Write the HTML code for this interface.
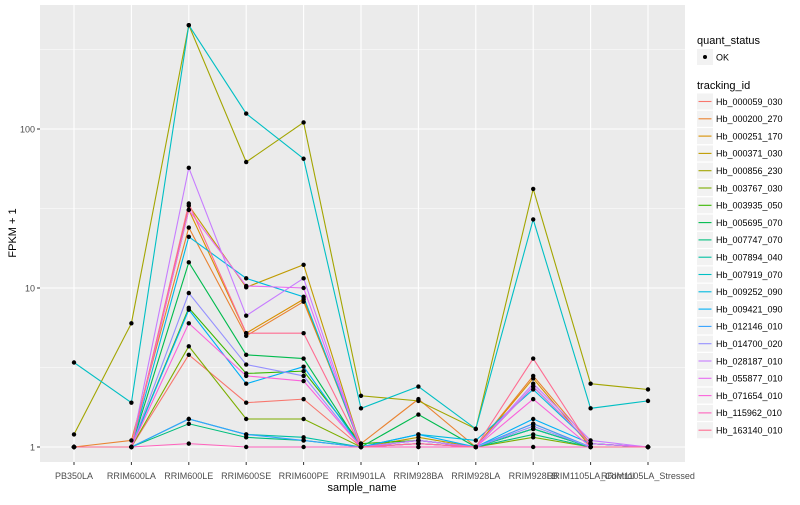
<!DOCTYPE html>
<html><head><meta charset="utf-8"><style>
body{margin:0;background:#fff;font-family:"Liberation Sans",sans-serif;}
svg text{font-family:"Liberation Sans",sans-serif;}
</style></head><body>
<svg id="chart" width="800" height="500">
<rect x="40" y="5" width="645" height="457" fill="#EBEBEB"/>
<g id="grid"></g><g id="lines"></g><g id="pts"></g><g id="axes"></g><g id="legend"></g>
</svg>
<script>
const categories=["PB350LA","RRIM600LA","RRIM600LE","RRIM600SE","RRIM600PE","RRIM901LA","RRIM928BA","RRIM928LA","RRIM928LB","RRIM1105LA_Control","RRIM1105LA_Stressed"];
const seriesNames=["Hb_000059_030","Hb_000200_270","Hb_000251_170","Hb_000371_030","Hb_000856_230","Hb_003767_030","Hb_003935_050","Hb_005695_070","Hb_007747_070","Hb_007894_040","Hb_007919_070","Hb_009252_090","Hb_009421_090","Hb_012146_010","Hb_014700_020","Hb_028187_010","Hb_055877_010","Hb_071654_010","Hb_115962_010","Hb_163140_010"];
const seriesColors=["#F8766D","#EA8331","#D89000","#C09B00","#A3A500","#7CAE00","#39B600","#00BB4E","#00BF7D","#00C1A3","#00BFC4","#00BAE0","#00B0F6","#35A2FF","#9590FF","#C77CFF","#E76BF3","#FA62DB","#FF62BC","#FF6C91"];
const s01=[1,1,3.8,1.9,2.0,1,1.05,1,1.4,1,1];
const s02=[1,1.1,24,5.0,8.2,1.05,2.0,1,2.8,1.05,1];
const s03=[1,1,31,5.2,8.5,1,1.1,1,2.7,1,1];
const s04=[1,1,33,10.1,14,1,1.15,1,1.3,1,1];
const s05=[1.2,6,450,62,110,2.1,1.95,1.3,42,2.5,2.3];
const s06=[1,1,4.3,1.5,1.5,1,1.0,1,1.15,1,1];
const s07=[1,1,7.5,2.9,3.0,1.05,1.1,1,1.3,1,1];
const s08=[1,1,14.5,3.8,3.6,1,1.6,1,2.4,1.05,1];
const s09=[1,1,1.4,1.15,1.1,1,1.05,1,1.2,1,1];
const s10=[1,1,1.5,1.2,1.15,1,1.1,1,1.3,1,1];
const s11=[3.4,1.9,450,125,65,1.75,2.4,1.3,27,1.75,1.95];
const s12=[1,1,21,11.5,8.8,1,1.2,1.1,2.3,1.05,1];
const s13=[1,1,7.3,2.5,3.2,1,1.2,1,1.5,1.05,1];
const s14=[1,1,1.5,1.2,1.1,1,1.05,1,1.4,1,1];
const s15=[1,1,9.3,3.3,2.8,1,1.1,1,1.35,1,1];
const s16=[1,1,57,6.7,11.5,1,1.1,1,2.5,1.1,1];
const s17=[1,1,31,10.3,10,1,1.05,1,2.4,1.05,1];
const s18=[1,1,6,2.8,2.6,1,1.05,1,2.0,1,1];
const s19=[1,1,1.05,1.0,1.0,1,1,1,1,1,1];
const s20=[1,1,34,5.2,5.2,1,1.05,1,3.6,1,1];
const seriesValues=[s01,s02,s03,s04,s05,s06,s07,s08,s09,s10,s11,s12,s13,s14,s15,s16,s17,s18,s19,s20];
const yTicks=[1,10,100];
const yTickLabels=["1","10","100"];

const NS="http://www.w3.org/2000/svg";
function mk(t,a,p){const e=document.createElementNS(NS,t);for(const k in a)e.setAttribute(k,a[k]);p.appendChild(e);return e;}
const xS=i=>74+i*57.4;
const yS=v=>447-Math.log10(v)*159;
const grid=document.getElementById('grid'),lines=document.getElementById('lines'),pts=document.getElementById('pts'),axes=document.getElementById('axes'),leg=document.getElementById('legend');
// minor grid
yTicks.forEach(t=>{const y=yS(t*Math.sqrt(10));const l=mk('line',{x1:40,x2:685,y1:y,y2:y,stroke:'#fff','stroke-width':0.5},grid);

});
yTicks.forEach((t,i)=>{const y=yS(t);const l=mk('line',{x1:40,x2:685,y1:y,y2:y,stroke:'#fff','stroke-width':1.1},grid);


const tk=mk('line',{x1:37,x2:40,y1:y,y2:y,stroke:'#333','stroke-width':1},axes);


const tx=mk('text',{x:35,y:y+3.5,'text-anchor':'end','font-size':9,fill:'#4d4d4d'},axes);tx.textContent=yTickLabels[i];

});
categories.forEach((c,i)=>{const x=xS(i);const l=mk('line',{x1:x,x2:x,y1:5,y2:462,stroke:'#fff','stroke-width':1.1},grid);


const tk=mk('line',{x1:x,x2:x,y1:462,y2:465,stroke:'#333','stroke-width':1},axes);


const tx=mk('text',{x:x,y:479,'text-anchor':'middle','font-size':9,fill:'#4d4d4d'},axes);tx.textContent=c;

});
seriesValues.forEach((vals,si)=>{
 const p=mk('polyline',{points:vals.map((v,i)=>xS(i)+','+yS(v)).join(' '),fill:'none',stroke:seriesColors[si],'stroke-width':1.1},lines);
 
 
 vals.forEach((v,i)=>{const c=mk('circle',{cx:xS(i),cy:yS(v),r:2.2,fill:'#000'},pts);
 
 });
});
let t=mk('text',{x:362,y:491,'text-anchor':'middle','font-size':11,fill:'#000'},axes);t.textContent='sample_name';


t=mk('text',{x:16,y:233,'text-anchor':'middle','font-size':11,fill:'#000',transform:'rotate(-90 16 233)'},axes);t.textContent='FPKM + 1';


// legend
t=mk('text',{x:697,y:44,'font-size':11,fill:'#000'},leg);t.textContent='quant_status';


let r=mk('rect',{x:697,y:49,width:16,height:16,fill:'#F2F2F2'},leg);


let c=mk('circle',{cx:705,cy:57,r:2,fill:'#000'},leg);


t=mk('text',{x:716,y:60.5,'font-size':9,fill:'#000'},leg);t.textContent='OK';


t=mk('text',{x:697,y:89,'font-size':11,fill:'#000'},leg);t.textContent='tracking_id';


seriesNames.forEach((n,i)=>{const y=101.5+i*17.3;
 const g=mk('g',{},leg);
 
 
 mk('rect',{x:697,y:y-8,width:16,height:16,fill:'#F2F2F2'},g);
 mk('line',{x1:698.5,x2:711.5,y1:y,y2:y,stroke:seriesColors[i],'stroke-width':1.1},g);
 const tx=mk('text',{x:716,y:y+3.3,'font-size':9,fill:'#000'},g);tx.textContent=n;
});
</script>
</body></html>
